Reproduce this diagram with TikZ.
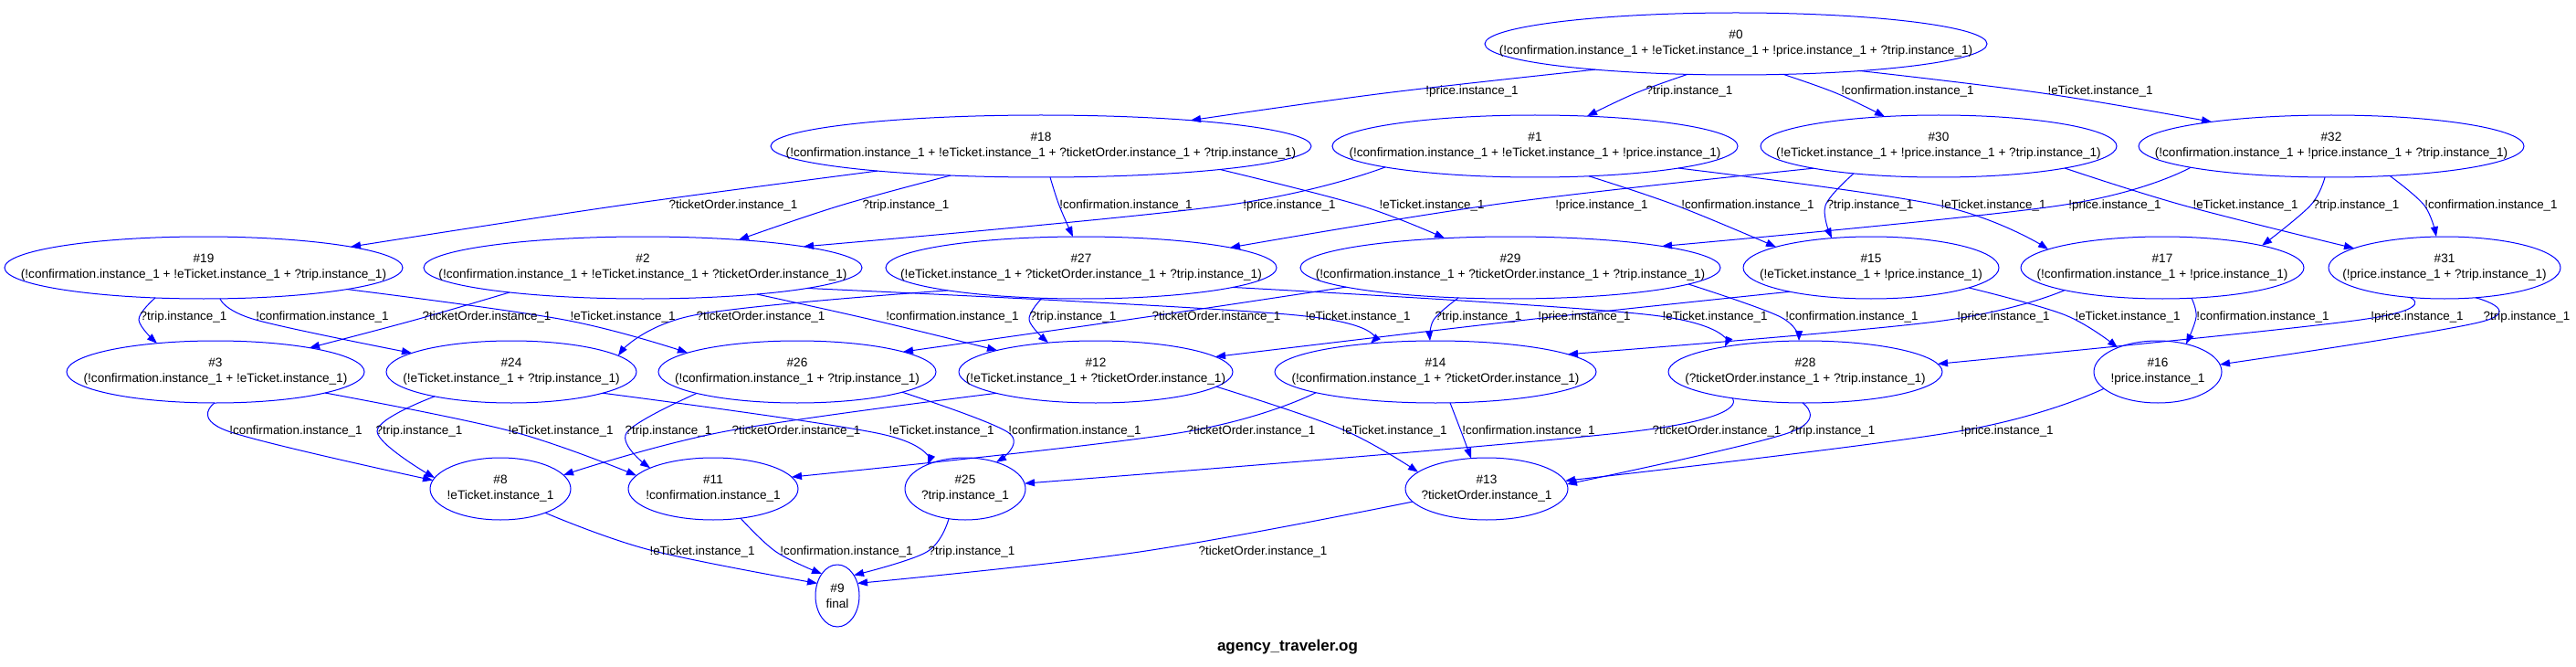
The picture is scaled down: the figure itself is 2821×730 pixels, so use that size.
\documentclass[tikz,border=0pt]{standalone}
\usepackage{fontspec}
\setmainfont{Liberation Sans}
\usetikzlibrary{arrows.meta,calc,shapes.geometric}
\definecolor{eblue}{RGB}{0,0,255}
\tikzset{
  st/.style={ellipse, draw=eblue, line width=1pt, inner sep=0pt},
  txt/.style={font=\fontsize{13.6}{17}\selectfont, align=center, inner sep=0pt, text=black},
  lbl/.style={font=\fontsize{13.4}{16}\selectfont, inner sep=0pt, text=black},
  conn/.style={draw=eblue, line width=1pt, -{Triangle[length=11pt,width=8pt]}},
}
\def\xC{!confirmation.instance\_1}
\def\xE{!eTicket.instance\_1}
\def\xP{!price.instance\_1}
\def\xT{?trip.instance\_1}
\def\xO{?ticketOrder.instance\_1}
\def\nry{34}
\newcount\ecnt
\newcommand\mynode[6]{%
  \expandafter\xdef\csname rx@#1\endcsname{#4}%
  \node[st, minimum width={2*#4pt}, minimum height={2*\nry pt}] (#1) at (#2,#3) {};
  \node[txt] (t#1) at (#1) {\#{}#5\\#6};
}
\newcommand\myedge[9]{%
  \global\advance\ecnt by 1
  \edef\rxa{\csname rx@#1\endcsname}%
  \edef\rxb{\csname rx@#3\endcsname}%
  \pgfmathsetmacro\sya{\nry*sqrt(max(0,1-((#2)/\rxa)^2))}%
  \pgfmathsetmacro\syb{\nry*sqrt(max(0,1-((#4)/\rxb)^2))}%
  \coordinate (es) at ($(#1.center)+(#2,\sya)$);
  \coordinate (ee) at ($(#3.center)+(#4,-\syb)$);
  \coordinate (em) at (#5,#6);
  \draw[conn] plot[smooth, tension=0.6] coordinates {(es) (em) (ee)};
  \node[lbl] (lab\the\ecnt) at (#7,#8) {#9};
}
\begin{document}
\begin{tikzpicture}[x=1pt,y=-1pt]
\useasboundingbox (0,0) rectangle (2821,730);
\fill[white] (0,0) rectangle (2821,730);
% nodes
\mynode{n0}{1901}{48}{275}{0}{(\xC{} + \xE{} + \xP{} + \xT)}
\mynode{n18}{1140}{160}{296}{18}{(\xC{} + \xE{} + \xO{} + \xT)}
\mynode{n1}{1681}{160}{222}{1}{(\xC{} + \xE{} + \xP)}
\mynode{n30}{2123}{160}{195}{30}{(\xE{} + \xP{} + \xT)}
\mynode{n32}{2553}{160}{211}{32}{(\xC{} + \xP{} + \xT)}
\mynode{n19}{223}{293}{218}{19}{(\xC{} + \xE{} + \xT)}
\mynode{n2}{704}{293}{240}{2}{(\xC{} + \xE{} + \xO)}
\mynode{n27}{1184}{293}{214}{27}{(\xE{} + \xO{} + \xT)}
\mynode{n29}{1654}{293}{230}{29}{(\xC{} + \xO{} + \xT)}
\mynode{n15}{2049}{293}{140}{15}{(\xE{} + \xP)}
\mynode{n17}{2368}{293}{155}{17}{(\xC{} + \xP)}
\mynode{n31}{2677}{293}{127}{31}{(\xP{} + \xT)}
\mynode{n3}{236}{407}{163}{3}{(\xC{} + \xE)}
\mynode{n24}{560}{407}{137}{24}{(\xE{} + \xT)}
\mynode{n26}{873}{407}{152}{26}{(\xC{} + \xT)}
\mynode{n12}{1200}{407}{150}{12}{(\xE{} + \xO)}
\mynode{n14}{1572}{407}{176}{14}{(\xC{} + \xO)}
\mynode{n28}{1977}{407}{150}{28}{(\xO{} + \xT)}
\mynode{n16}{2363}{407}{70}{16}{\xP}
\mynode{n8}{548}{535}{77}{8}{\xE}
\mynode{n11}{781}{535}{93}{11}{\xC}
\mynode{n25}{1057}{535}{66}{25}{\xT}
\mynode{n13}{1628}{535}{89}{13}{\xO}
\mynode{n9}{917}{652}{24}{9}{final}
% edges rank 0-1
\myedge{n0}{-154}{n18}{164}{1516}{102}{1612}{100}{\xP}
\myedge{n0}{-53}{n1}{57}{1791}{102}{1850}{100}{\xT}
\myedge{n0}{52}{n30}{-59}{2011}{102}{2089}{100}{\xC}
\myedge{n0}{136}{n32}{-131}{2237}{102}{2300}{100}{\xE}
% rank 1-2
\myedge{n18}{-179}{n19}{161}{678}{225}{803}{225}{\xO}
\myedge{n18}{-99}{n2}{105}{920}{225}{992}{225}{\xT}
\myedge{n18}{10}{n27}{-9}{1160}{225}{1233}{225}{\xC}
\myedge{n18}{196}{n29}{-72}{1490}{225}{1568}{225}{\xE}
\myedge{n1}{-164}{n2}{176}{1340}{225}{1412}{225}{\xP}
\myedge{n1}{59}{n15}{-104}{1836}{225}{1914}{225}{\xC}
\myedge{n1}{157}{n17}{-125}{2125}{225}{2183}{225}{\xE}
\myedge{n30}{-137}{n27}{163}{1650}{222}{1754}{225}{\xP}
\myedge{n30}{-93}{n15}{-43}{1999}{225}{2048}{225}{\xT}
\myedge{n30}{138}{n31}{-99}{2392}{225}{2459}{225}{\xE}
\myedge{n32}{-154}{n29}{166}{2255}{225}{2316}{225}{\xP}
\myedge{n32}{-7}{n17}{109}{2530}{225}{2580}{225}{\xT}
\myedge{n32}{64}{n31}{-9}{2655}{225}{2728}{225}{\xC}
% rank 2-3
\myedge{n19}{-53}{n3}{-64}{152}{350}{201}{347}{\xT}
\myedge{n19}{18}{n24}{-109}{280}{350}{353}{347}{\xC}
\myedge{n19}{157}{n26}{-120}{618}{350}{682}{347}{\xE}
\myedge{n2}{-146}{n3}{103}{455}{350}{533}{347}{\xO}
\myedge{n2}{125}{n12}{-108}{955}{350}{1043}{347}{\xC}
\myedge{n2}{180}{n14}{-71}{1420}{345}{1487}{347}{\xE}
\myedge{n27}{-146}{n24}{117}{760}{345}{833}{347}{\xO}
\myedge{n27}{-43}{n12}{-52}{1127}{350}{1175}{347}{\xT}
\myedge{n27}{166}{n28}{-88}{1810}{345}{1878}{347}{\xE}
\myedge{n29}{-180}{n26}{116}{1255}{347}{1332}{347}{\xO}
\myedge{n29}{-57}{n14}{-6}{1570}{350}{1619}{347}{\xT}
\myedge{n29}{195}{n28}{-7}{1950}{347}{2028}{347}{\xC}
\myedge{n15}{-89}{n12}{131}{1672}{350}{1735}{347}{\xP}
\myedge{n15}{107}{n16}{-44}{2262}{345}{2330}{347}{\xE}
\myedge{n17}{-107}{n14}{145}{2120}{352}{2194}{347}{\xP}
\myedge{n17}{32}{n16}{31}{2405}{347}{2478}{347}{\xC}
\myedge{n31}{-38}{n28}{145}{2585}{350}{2647}{347}{\xP}
\myedge{n31}{34}{n16}{68}{2718}{352}{2767}{347}{\xT}
% rank 3-4
\myedge{n3}{-1}{n8}{-74}{250}{472}{324}{472}{\xC}
\myedge{n3}{120}{n11}{-84}{560}{472}{614}{472}{\xE}
\myedge{n24}{-84}{n8}{-72}{413}{472}{459}{472}{\xT}
\myedge{n24}{100}{n25}{-41}{965}{475}{1031}{472}{\xE}
\myedge{n26}{-110}{n11}{-69}{686}{474}{732}{472}{\xT}
\myedge{n26}{115}{n25}{34}{1105}{474}{1177}{472}{\xC}
\myedge{n12}{-109}{n8}{69}{795}{472}{872}{472}{\xO}
\myedge{n12}{132}{n13}{-75}{1470}{470}{1527}{472}{\xE}
\myedge{n14}{-131}{n11}{86}{1290}{474}{1370}{472}{\xO}
\myedge{n14}{16}{n13}{-17}{1600}{472}{1674}{472}{\xC}
\myedge{n28}{-80}{n25}{65}{1790}{472}{1880}{472}{\xO}
\myedge{n28}{-3}{n13}{88}{1958}{474}{2006}{472}{\xT}
\myedge{n16}{-59}{n13}{86}{2145}{472}{2198}{472}{\xP}
% rank 4-5
\myedge{n8}{49}{n9}{-22}{712}{602}{769}{604}{\xE}
\myedge{n11}{30}{n9}{-17}{850}{604}{927}{604}{\xC}
\myedge{n25}{-18}{n9}{18}{1015}{604}{1064}{604}{\xT}
\myedge{n13}{-81}{n9}{22}{1248}{604}{1383}{604}{\xO}
% title
\node[font=\bfseries\fontsize{17}{20}\selectfont, inner sep=0pt] (title) at (1410,708) {agency\_traveler.og};
\end{tikzpicture}
\end{document}
